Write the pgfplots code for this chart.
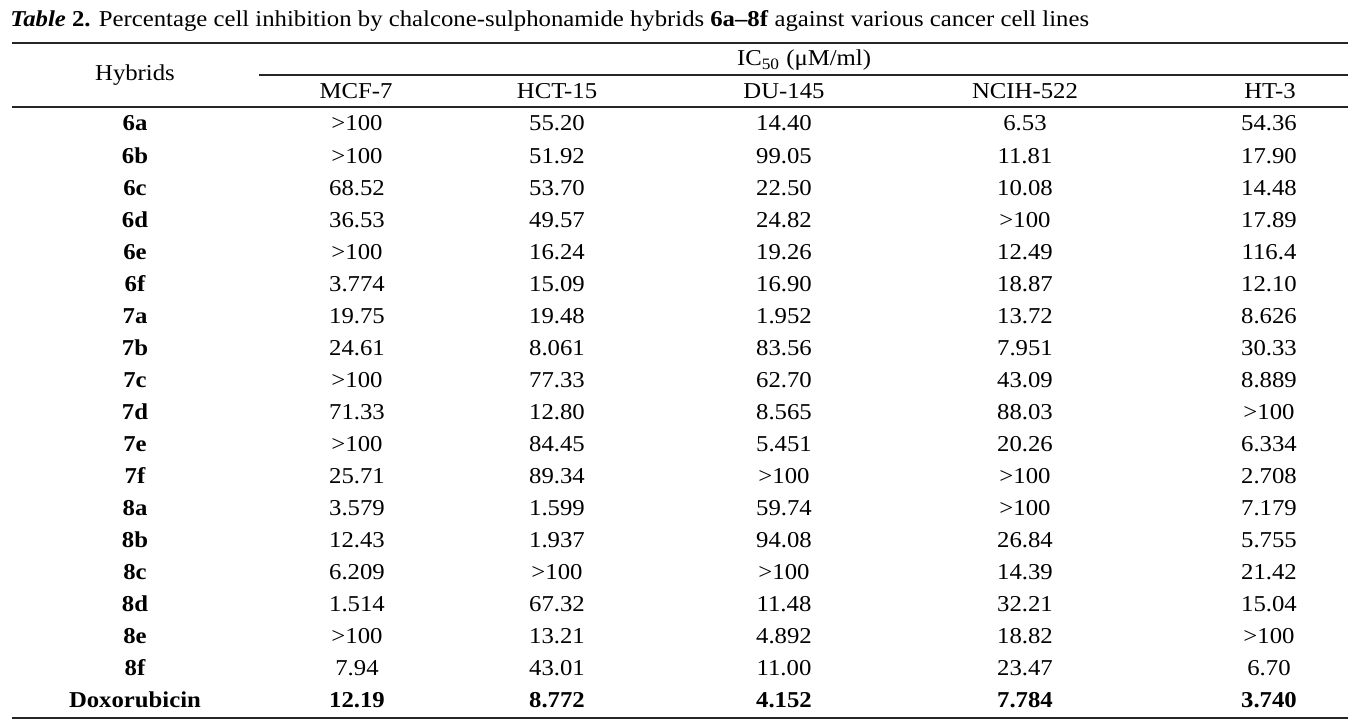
\documentclass[border=0pt]{standalone}
\usepackage{pgfplots}
\pgfplotsset{compat=1.18}
\usepackage{pgfplotstable}
\usepackage{fontspec}
\setmainfont{Liberation Serif}[FakeStretch=1.09]
\newcommand{\cellfont}{\fontsize{11.35}{13}\selectfont}

\pgfplotstableread{
row hyb mcf hct du nci ht
0 6a >100 55.20 14.40 6.53 54.36
1 6b >100 51.92 99.05 11.81 17.90
2 6c 68.52 53.70 22.50 10.08 14.48
3 6d 36.53 49.57 24.82 >100 17.89
4 6e >100 16.24 19.26 12.49 116.4
5 6f 3.774 15.09 16.90 18.87 12.10
6 7a 19.75 19.48 1.952 13.72 8.626
7 7b 24.61 8.061 83.56 7.951 30.33
8 7c >100 77.33 62.70 43.09 8.889
9 7d 71.33 12.80 8.565 88.03 >100
10 7e >100 84.45 5.451 20.26 6.334
11 7f 25.71 89.34 >100 >100 2.708
12 8a 3.579 1.599 59.74 >100 7.179
13 8b 12.43 1.937 94.08 26.84 5.755
14 8c 6.209 >100 >100 14.39 21.42
15 8d 1.514 67.32 11.48 32.21 15.04
16 8e >100 13.21 4.892 18.82 >100
17 8f 7.94 43.01 11.00 23.47 6.70
}\body
\pgfplotstableread{
row hyb mcf hct du nci ht
18 Doxorubicin 12.19 8.772 4.152 7.784 3.740
}\dox

\newcommand{\col}[4]{%
\addplot[draw=none, mark=none, nodes near coords, point meta=explicit symbolic,
  nodes near coords style={anchor=base, inner sep=0pt, font=#4}]
  table[x expr=#1, y expr={131+32*\thisrow{row}}, meta=#2] {#3};}

\begin{document}
\begin{tikzpicture}
\begin{axis}[width=684.5pt, height=361pt, scale only axis,
  xmin=0, xmax=1369, ymin=0, ymax=722, y dir=reverse,
  axis lines=none, ticks=none, clip=false]
\addplot[draw=none, mark=none] coordinates {(0,0) (1369,722)};
% rules
\addplot[black!85, line width=0.8pt, mark=none] coordinates {(12,43) (1348,43)};
\addplot[black!85, line width=0.8pt, mark=none] coordinates {(259,75) (1348,75)};
\addplot[black!85, line width=0.8pt, mark=none] coordinates {(12,107) (1348,107)};
\addplot[black!85, line width=0.8pt, mark=none] coordinates {(12,718) (1348,718)};
% title
\node[anchor=base west, inner sep=0pt, font=\cellfont] at (axis cs:10,27)
  {\textbf{\textit{Table}} \textbf{2.} Percentage cell inhibition by chalcone-sulphonamide hybrids \textbf{6a–8f} against various cancer cell lines};
% headers
\node[anchor=base, inner sep=0pt, font=\cellfont] at (axis cs:135,81) {Hybrids};
\node[anchor=base, inner sep=0pt, font=\cellfont] at (axis cs:804,66) {IC\textsubscript{50} (μM/ml)};
\node[anchor=base, inner sep=0pt, font=\cellfont] at (axis cs:356,98) {MCF-7};
\node[anchor=base, inner sep=0pt, font=\cellfont] at (axis cs:557,98) {HCT-15};
\node[anchor=base, inner sep=0pt, font=\cellfont] at (axis cs:784,98) {DU-145};
\node[anchor=base, inner sep=0pt, font=\cellfont] at (axis cs:1025,98) {NCIH-522};
\node[anchor=base, inner sep=0pt, font=\cellfont] at (axis cs:1270,98) {HT-3};
% body
\col{135}{hyb}{\body}{\cellfont\bfseries}
\col{357}{mcf}{\body}{\cellfont}
\col{557}{hct}{\body}{\cellfont}
\col{784}{du}{\body}{\cellfont}
\col{1025}{nci}{\body}{\cellfont}
\col{1269}{ht}{\body}{\cellfont}
\col{135}{hyb}{\dox}{\cellfont\bfseries}
\col{357}{mcf}{\dox}{\cellfont\bfseries}
\col{557}{hct}{\dox}{\cellfont\bfseries}
\col{784}{du}{\dox}{\cellfont\bfseries}
\col{1025}{nci}{\dox}{\cellfont\bfseries}
\col{1269}{ht}{\dox}{\cellfont\bfseries}
\end{axis}
\end{tikzpicture}
\end{document}
